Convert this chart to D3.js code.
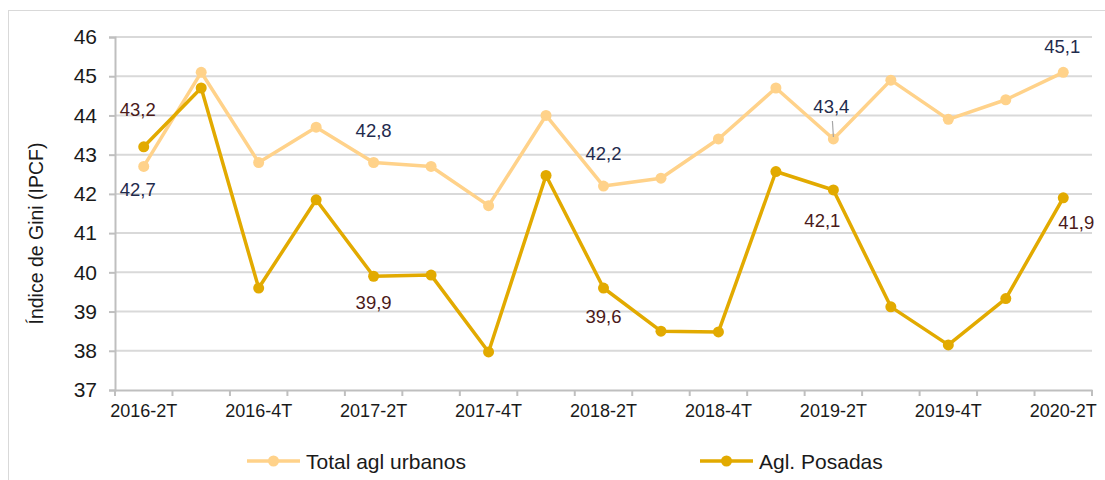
<!DOCTYPE html>
<html>
<head>
<meta charset="utf-8">
<script src="https://cdn.jsdelivr.net/npm/d3@7"></script>
<style>
  body { margin: 0; background: #fff; }
  svg { font-family: "Liberation Sans", Arial, sans-serif; }
</style>
</head>
<body>
<svg id="chart"></svg>
<script>
const categories = [
  "2016-2T", "2016-3T", "2016-4T", "2017-1T", "2017-2T", "2017-3T",
  "2017-4T", "2018-1T", "2018-2T", "2018-3T", "2018-4T", "2019-1T",
  "2019-2T", "2019-3T", "2019-4T", "2020-1T", "2020-2T",
];
const totalUrbanos = [
  42.7, 45.1, 42.8, 43.7, 42.8, 42.7, 41.7, 44.0, 42.2,
  42.4, 43.4, 44.7, 43.4, 44.9, 43.9, 44.4, 45.1,
];
const posadas = [
  43.2, 44.7, 39.6, 41.85, 39.9, 39.93, 37.97, 42.47, 39.6,
  38.5, 38.48, 42.57, 42.1, 39.12, 38.15, 39.33, 41.9,
];
const seriesNames = ["Total agl urbanos", "Agl. Posadas"];
const yTicks = [37, 38, 39, 40, 41, 42, 43, 44, 45, 46];

const width = 1105;
const height = 480;
const margin = { top: 37, right: 13, bottom: 90, left: 115 };

const colors = ["#FFD28A", "#E2AA00"];
const labelColors = ["#1F2B4D", "#4A1A1A"];

const svg = d3.select("#chart").attr("width", width).attr("height", height);

// outer frame
svg.append("rect")
  .attr("x", 8.5).attr("y", 10.5)
  .attr("width", width).attr("height", height)
  .attr("fill", "none").attr("stroke", "#d9d9d9");

const xScale = d3.scaleBand()
  .domain(categories)
  .range([margin.left, width - margin.right]);

const yScale = d3.scaleLinear()
  .domain([37, 46])
  .range([height - margin.bottom, margin.top]);

const xPos = (i) => xScale(categories[i]) + xScale.bandwidth() / 2;

// gridlines
svg.append("g")
  .selectAll("line")
  .data(yTicks.slice(1))
  .enter()
  .append("line")
  .attr("x1", margin.left)
  .attr("x2", width - margin.right)
  .attr("y1", (d) => yScale(d))
  .attr("y2", (d) => yScale(d))
  .attr("stroke", "#d9d9d9")
  .attr("stroke-width", 2);

// y axis
const yAxis = d3.axisLeft(yScale).tickValues(yTicks).tickSize(6).tickPadding(12)
  .tickFormat(d3.format("d"));
const yG = svg.append("g")
  .attr("transform", `translate(${margin.left}, 0)`)
  .call(yAxis);
yG.selectAll("text").attr("font-size", 21).attr("fill", "#1a1a1a")
  .attr("font-family", "Liberation Sans, Arial, sans-serif");

// x axis: ticks on band boundaries, labels every other category
const xG = svg.append("g")
  .attr("transform", `translate(0, ${height - margin.bottom})`);
xG.append("g")
  .call(d3.axisBottom(xScale).tickSize(0).tickFormat((d, i) => (i % 2 === 0 ? d : "")).tickPadding(14))
  .selectAll("text").attr("font-size", 18).attr("fill", "#1a1a1a")
  .attr("font-family", "Liberation Sans, Arial, sans-serif");
xG.selectAll("line.bound")
  .data(d3.range(categories.length + 1))
  .enter()
  .append("line")
  .attr("class", "bound")
  .attr("x1", (i) => margin.left + i * xScale.step())
  .attr("x2", (i) => margin.left + i * xScale.step())
  .attr("y1", 0).attr("y2", 6);

[yG, xG].forEach((g) => {
  g.selectAll("path.domain").attr("stroke", "#bfbfbf").attr("stroke-width", 2);
  g.selectAll("line").attr("stroke", "#bfbfbf").attr("stroke-width", 2);
});

// y axis title
svg.append("text")
  .attr("transform", `translate(43, ${(margin.top + height - margin.bottom) / 2 + 20}) rotate(-90)`)
  .attr("text-anchor", "middle")
  .attr("font-size", 19.5)
  .attr("fill", "#1a1a1a")
  .text("Índice de Gini (IPCF)");

// lines and markers
const line = d3.line().x((d, i) => xPos(i)).y((d) => yScale(d));
[totalUrbanos, posadas].forEach((values, s) => {
  svg.append("path")
    .datum(values)
    .attr("d", line)
    .attr("fill", "none")
    .attr("stroke", colors[s])
    .attr("stroke-width", 3.5)
    .attr("stroke-linejoin", "round");
  svg.append("g")
    .selectAll("circle")
    .data(values)
    .enter()
    .append("circle")
    .attr("cx", (d, i) => xPos(i))
    .attr("cy", (d) => yScale(d))
    .attr("r", 5.5)
    .attr("fill", colors[s]);
});

// data labels: [series, index, dx, dy]
const fmt = (v) => d3.format(".1f")(v).replace(".", ",");
const labelPlacement = [
  [1, 0, -6, -31], [0, 0, -6, 30],
  [0, 4, 0, -26], [1, 4, 0, 33],
  [0, 8, 0, -26], [1, 8, 0, 35],
  [0, 12, -2, -26], [1, 12, -11, 37],
  [0, 16, -1, -19], [1, 16, 13, 31],
];
labelPlacement.forEach(([s, i, dx, dy]) => {
  const v = s === 0 ? totalUrbanos[i] : posadas[i];
  svg.append("text")
    .attr("x", xPos(i) + dx)
    .attr("y", yScale(v) + dy)
    .attr("text-anchor", "middle")
    .attr("font-size", 18.5)
    .attr("fill", labelColors[s])
    .text(fmt(v));
});
// leader line for 43,4
svg.append("line")
  .attr("x1", xPos(12) - 1).attr("y1", yScale(totalUrbanos[12]) - 18)
  .attr("x2", xPos(12)).attr("y2", yScale(totalUrbanos[12]) - 2)
  .attr("stroke", "#a6a6a6").attr("stroke-width", 1.2);

// legend
const legendX = [247, 700];
seriesNames.forEach((name, s) => {
  const g = svg.append("g").attr("transform", `translate(${legendX[s]}, 461)`);
  g.append("line").attr("x1", 0).attr("x2", 53).attr("y1", 0).attr("y2", 0)
    .attr("stroke", colors[s]).attr("stroke-width", 3.5);
  g.append("circle").attr("cx", 26.5).attr("cy", 0).attr("r", 5.5).attr("fill", colors[s]);
  g.append("text").attr("x", 59).attr("y", 7.5)
    .attr("font-size", 21).attr("fill", "#1a1a1a").text(name);
});
</script>
</body>
</html>
